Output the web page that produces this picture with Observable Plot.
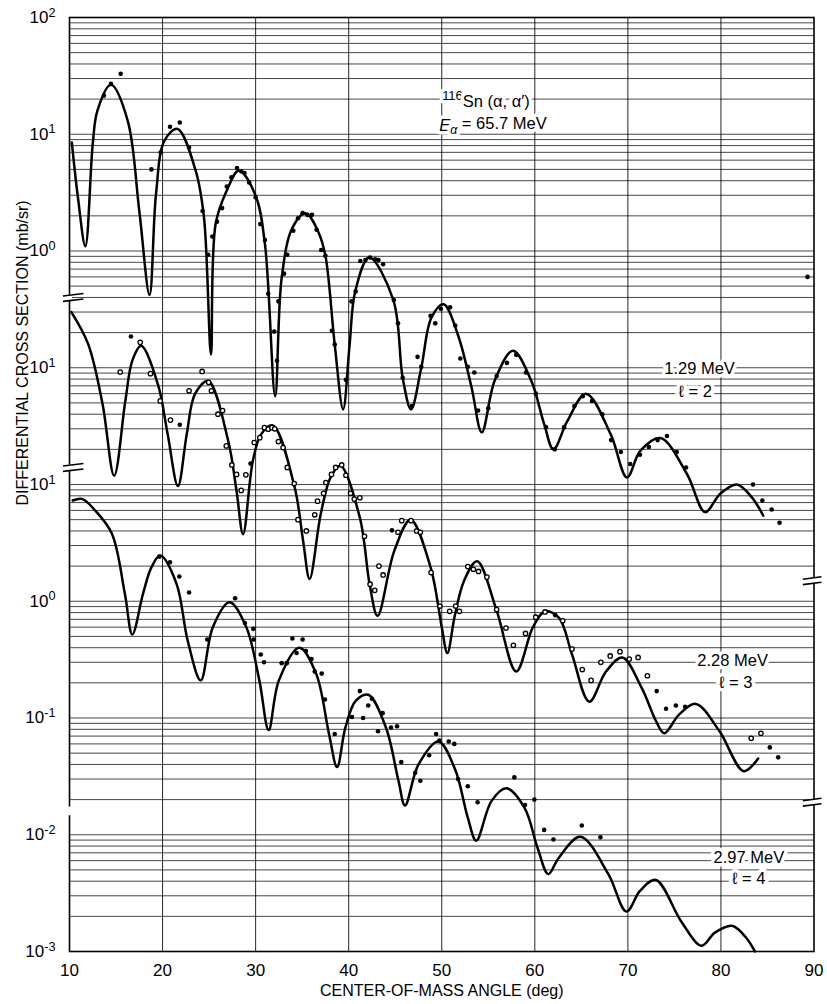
<!DOCTYPE html>
<html><head><meta charset="utf-8">
<script src="https://cdn.jsdelivr.net/npm/d3@7"></script>
<script src="https://cdn.jsdelivr.net/npm/@observablehq/plot@0.6"></script>
<style>
html,body{margin:0;padding:0;background:#fff;}
#chart svg{display:block;}
</style></head><body><div id="chart"></div>
<script>
// ---- Curve data: [angle (deg), cross section in the curve's own units] ----
// 1.29 MeV (l=2) - plotted on the top decade labels
const curveA = [[10.25,8.5],[10.9,2.9],[11.7,1.1],[12.5,8.3],[13.0,15.9],[14.45,26.5],[16.25,13.1],[17.5,2.2],[18.6,0.42],[19.3,3.1],[20.2,8.8],[21.6,11.1],[23.55,4.9],[24.45,1.94],[25.2,0.13],[25.7,1.7],[26.9,3.3],[28.2,4.9],[30.0,2.98],[31.0,1.15],[32.1,0.057],[32.8,0.59],[33.95,1.58],[35.4,2.1],[36.75,1.45],[37.5,0.91],[38.5,0.158],[39.4,0.044],[40.1,0.158],[40.7,0.45],[42.2,0.88],[44.8,0.38],[45.8,0.082],[46.7,0.044],[47.8,0.10],[48.9,0.27],[50.2,0.35],[51.75,0.19],[53.2,0.068],[54.3,0.028],[55.7,0.078],[57.65,0.14],[59.6,0.078],[61.0,0.033],[62.0,0.02],[63.5,0.035],[65.5,0.06],[68.15,0.027],[69.9,0.0115],[71.35,0.0195],[73.5,0.025],[76.35,0.0123],[78.3,0.0058],[79.9,0.0083],[81.7,0.01],[83.3,0.0078],[84.55,0.0054]];
const pointsA = [[13.7,21.4],[14.45,27],[15.5,32.9],[18.8,5.0],[19.8,7.0],[20.8,11.6],[21.85,12.6],[22.85,7.7],[24.3,2.2],[24.9,0.93],[25.35,1.33],[25.85,1.78],[26.4,2.33],[26.9,3.57],[27.4,4.27],[28.0,5.14],[28.45,4.81],[28.8,4.66],[29.3,3.87],[30.0,2.88],[30.5,1.70],[31.0,1.24],[31.35,0.43],[32.0,0.204],[32.3,0.115],[32.45,0.37],[33.05,0.64],[33.4,0.93],[34.05,1.49],[34.55,1.91],[35.05,2.11],[35.55,2.04],[36.05,2.04],[36.55,1.52],[37.05,1.02],[37.5,0.91],[38.2,0.207],[38.5,0.158],[39.7,0.079],[40.3,0.37],[40.75,0.45],[41.25,0.82],[41.8,0.836],[42.3,0.88],[42.85,0.85],[43.2,0.836],[43.7,0.77],[44.85,0.38],[45.3,0.24],[45.8,0.082],[46.8,0.047],[47.4,0.124],[47.8,0.102],[48.8,0.278],[49.3,0.24],[49.9,0.32],[50.9,0.33],[51.45,0.23],[52.0,0.12],[52.8,0.102],[53.5,0.091],[53.9,0.043],[55.0,0.045],[55.9,0.085],[57.0,0.11],[58.0,0.129],[59.05,0.091],[60.1,0.06],[61.2,0.031],[62.15,0.02],[63.15,0.031],[64.25,0.047],[65.15,0.057],[66.15,0.052],[67.25,0.04],[68.2,0.024],[69.25,0.019],[70.25,0.015],[71.3,0.018],[72.25,0.021],[73.2,0.024],[74.2,0.026],[75.25,0.019],[76.25,0.014],[83.45,0.010],[84.45,0.0073],[85.45,0.0061],[86.3,0.0047],[89.3,0.60]];

// 2.28 MeV (l=3)
const curveB = [[10.2,30],[12.0,16],[13.55,4.9],[14.8,1.19],[16.0,5.2],[16.75,11.5],[17.7,15.4],[19.5,7.2],[20.55,2.7],[21.65,0.97],[22.6,2.7],[23.5,6.0],[24.9,7.7],[27.05,2.37],[27.95,0.88],[28.65,0.375],[29.7,1.59],[30.6,2.7],[31.85,3.2],[34.2,0.94],[35.1,0.33],[35.8,0.155],[37.0,0.56],[38.05,1.15],[39.1,1.45],[41.2,0.52],[42.25,0.14],[43.1,0.075],[44.9,0.27],[46.65,0.50],[48.8,0.195],[50.0,0.06],[50.6,0.036],[51.4,0.075],[52.4,0.15],[53.8,0.22],[55.9,0.083],[58.0,0.025],[59.8,0.06],[61.1,0.082],[62.6,0.072],[64.0,0.035],[65.85,0.0138],[67.65,0.025],[69.4,0.033],[71.5,0.018],[73.0,0.0095],[73.9,0.0074],[75.5,0.0107],[77.3,0.0132],[79.8,0.0078],[82.45,0.0035],[84.0,0.0045]];
const pointsBOpen = [[17.6,16.5],[15.45,9.2],[18.7,8.9],[19.75,5.2],[20.85,3.56],[22.85,6.35],[24.25,9.3],[24.95,7.5],[25.25,6.35],[25.95,4.0],[26.45,4.3],[26.85,2.14],[27.45,1.47],[27.95,1.22],[28.45,0.89],[28.95,1.21],[29.85,2.29],[30.45,2.52],[30.95,3.07],[31.35,2.98],[31.75,3.07],[32.05,3.0],[32.45,2.33],[32.95,2.07],[33.4,1.40],[34.15,1.02],[34.55,0.50],[35.45,0.40],[36.35,0.55],[36.65,0.72],[37.3,0.84],[37.55,1.04],[38.15,1.22],[38.6,1.4],[39.25,1.47],[39.7,1.2],[40.2,0.84],[40.6,0.75],[41.2,0.77],[41.7,0.36],[42.3,0.14],[42.8,0.124],[43.25,0.2],[43.7,0.168],[45.3,0.39],[45.7,0.49],[46.7,0.49],[47.3,0.40],[47.7,0.39],[48.85,0.176],[49.8,0.091],[50.85,0.082],[51.5,0.091],[51.9,0.082],[52.8,0.198],[53.4,0.188],[53.95,0.18],[54.85,0.161],[55.9,0.085],[56.9,0.059],[57.7,0.042],[59.0,0.053],[60.1,0.073],[61.1,0.081],[63.0,0.068],[64.0,0.039],[65.1,0.026],[66.05,0.021],[67.1,0.030],[68.1,0.034],[69.15,0.037],[70.15,0.032],[71.1,0.033],[72.1,0.023],[83.25,0.0067],[84.3,0.0074]];
const pointsBFilled = [[16.6,18.5],[21.85,3.25],[29.45,1.51],[44.65,0.405],[62.2,0.076],[73.1,0.017],[74.1,0.012],[75.15,0.0128],[76.15,0.0125],[85.25,0.0056],[86.15,0.0046]];

// 2.97 MeV (l=4)
const curveC = [[10.35,7.3],[11.4,7.5],[12.75,6.0],[14.55,3.8],[15.95,1.16],[16.75,0.52],[17.9,1.16],[18.8,1.95],[19.75,2.46],[21.5,1.41],[22.7,0.46],[24.1,0.21],[25.4,0.60],[27.2,0.98],[29.0,0.60],[30.4,0.21],[31.4,0.079],[32.5,0.21],[34.7,0.40],[36.5,0.24],[37.9,0.072],[38.75,0.038],[39.65,0.083],[40.75,0.14],[42.1,0.158],[44.0,0.083],[45.35,0.029],[46.05,0.0178],[47.5,0.04],[49.65,0.063],[51.45,0.036],[52.8,0.014],[53.7,0.0089],[55.35,0.0195],[56.95,0.025],[58.9,0.017],[60.3,0.0077],[61.45,0.0046],[62.55,0.0063],[64.9,0.0096],[67.9,0.0046],[69.85,0.0022],[71.3,0.0033],[73.0,0.0041],[75.75,0.0018],[77.9,0.00112],[79.35,0.00145],[81.2,0.00166],[82.75,0.0013],[83.65,0.001]];
const pointsC = [[19.65,2.41],[20.8,2.16],[21.8,1.63],[22.85,1.19],[24.8,0.47],[27.8,1.06],[28.85,0.65],[29.75,0.58],[29.8,0.47],[30.55,0.35],[30.9,0.30],[32.8,0.295],[33.35,0.295],[33.95,0.48],[34.4,0.36],[35.05,0.47],[35.4,0.375],[36.0,0.32],[36.35,0.25],[37.1,0.24],[37.45,0.144],[38.5,0.073],[40.35,0.102],[41.2,0.17],[41.55,0.10],[42.1,0.128],[42.5,0.146],[43.15,0.077],[43.65,0.11],[44.55,0.083],[45.2,0.085],[45.65,0.042],[47.15,0.034],[47.7,0.029],[48.65,0.048],[49.4,0.073],[49.75,0.064],[50.75,0.063],[51.35,0.06],[51.75,0.03],[52.8,0.026],[53.85,0.019],[57.8,0.031],[58.95,0.018],[59.95,0.02],[61.0,0.011],[62.0,0.0091],[65.05,0.012],[67.05,0.0095]];

// decade shift of each curve onto the common log paper
const shiftA = 1, shiftB = 0.01, shiftC = 0.001;

// axis ticks (paper units) and their printed labels
const yTickValues = [100,50,20,10,5,2,1,0.5, 0.1,0.05,0.02, 0.01,0.005,0.002,0.001,5e-4,2e-4,1e-4,5e-5,2e-5,1e-5,5e-6,2e-6,1e-6];
const yTickLabels = ["10^2","5","2","10^1","5","2","10^0","5", "10^1","5","2", "10^1","5","2","10^0","5","2","10^-1","5","2","10^-2","5","2","10^-3"];
const xTicks = [10,20,30,40,50,60,70,80,90];
const xGrid = [20,30,40,50,60,70,80];

// axis breaks (paper units)
const breaksLeft = [0.40, 0.014];
const breaksRight = [0.0015, 1.9e-5];
const gapsLeft = [1.6e-5];

// annotations (deg, paper units)
const annotations = [
  {text: "116Sn (α, α′)", x: 54.75, y: 19.7},
  {text: "Eα = 65.7 MeV", x: 55.5, y: 11.9},
  {text: "1.29 MeV", x: 77.7, y: 0.098},
  {text: "ℓ = 2", x: 77.25, y: 0.0628},
  {text: "2.28 MeV", x: 81.25, y: 3.09e-4},
  {text: "ℓ = 3", x: 81.6, y: 2.01e-4},
  {text: "2.97 MeV", x: 83.0, y: 6.3e-6},
  {text: "ℓ = 4", x: 83.0, y: 4.17e-6}
];
const xTitle = "CENTER-OF-MASS ANGLE (deg)";
const yTitle = "DIFFERENTIAL CROSS SECTION (mb/sr)";
const yTitleAt = [6.6e-3];

const lineOpts = (s) => ({x: d => d[0], y: d => d[1] * s, curve: "catmull-rom", stroke: "#000", strokeWidth: 2.5});

const chart = Plot.plot({
  width: 827, height: 1004,
  marginLeft: 69, marginRight: 13.5, marginTop: 17, marginBottom: 53,
  style: {fontFamily: "'Liberation Sans', Arial, sans-serif", fontSize: "17px", background: "#fff", color: "#000"},
  x: {domain: [10, 90]},
  y: {type: "log", domain: [1e-6, 100]},
  marks: [
    Plot.gridY({ticks: 100, stroke: "#000", strokeOpacity: 0.72, strokeWidth: 1}),
    Plot.gridX({ticks: xGrid, stroke: "#000", strokeOpacity: 0.85, strokeWidth: 1}),
    Plot.frame({stroke: "#000", strokeWidth: 1.6}),
    // axis breaks
    Plot.link(breaksLeft, {x1: () => 10, x2: () => 10, y1: d => d * 1.06, y2: d => d / 1.06, stroke: "#fff", strokeWidth: 5}),
    Plot.link(breaksRight, {x1: () => 90, x2: () => 90, y1: d => d * 1.06, y2: d => d / 1.06, stroke: "#fff", strokeWidth: 5}),
    Plot.link(gapsLeft, {x1: () => 10, x2: () => 10, y1: d => d * 1.09, y2: d => d / 1.09, stroke: "#fff", strokeWidth: 5}),
    Plot.link(breaksLeft, {x1: () => 9.3, x2: () => 11.5, y1: d => d * 1.03, y2: d => d * 1.08, stroke: "#000", strokeWidth: 1.6}),
    Plot.link(breaksLeft, {x1: () => 9.3, x2: () => 11.5, y1: d => d / 1.08, y2: d => d / 1.03, stroke: "#000", strokeWidth: 1.6}),
    Plot.link(breaksRight, {x1: () => 88.8, x2: () => 90.8, y1: d => d * 1.03, y2: d => d * 1.08, stroke: "#000", strokeWidth: 1.6}),
    Plot.link(breaksRight, {x1: () => 88.8, x2: () => 90.8, y1: d => d / 1.08, y2: d => d / 1.03, stroke: "#000", strokeWidth: 1.6}),
    // axes
    Plot.axisX({ticks: xTicks, tickSize: 0, tickPadding: 12, label: null, fontSize: 17}),
    Plot.axisY({ticks: yTickValues, tickSize: 0, tickPadding: 14, label: null, fontSize: 17,
      tickFormat: d => yTickLabels[yTickValues.indexOf(d)]}),
    Plot.text([xTitle], {frameAnchor: "bottom", dy: 39, text: d => d, fontSize: 16, lineAnchor: "middle"}),
    Plot.text(yTitleAt, {y: d => d, frameAnchor: "left", dx: -47, rotate: -90, text: () => yTitle, fontSize: 16, lineAnchor: "middle"}),
    // annotations with white halo
    Plot.text(annotations, {x: "x", y: "y", text: "text", fontSize: 16.5, fill: "#000", stroke: "#fff", strokeWidth: 7, paintOrder: "stroke", lineAnchor: "middle"}),
    // curves
    Plot.line(curveA, lineOpts(shiftA)),
    Plot.line(curveB, lineOpts(shiftB)),
    Plot.line(curveC, lineOpts(shiftC)),
    // data points
    Plot.dot(pointsA, {x: d => d[0], y: d => d[1] * shiftA, r: 2.3, fill: "#000"}),
    Plot.dot(pointsBOpen, {x: d => d[0], y: d => d[1] * shiftB, r: 2.2, fill: "#fff", stroke: "#000", strokeWidth: 1.3}),
    Plot.dot(pointsBFilled, {x: d => d[0], y: d => d[1] * shiftB, r: 2.3, fill: "#000"}),
    Plot.dot(pointsC, {x: d => d[0], y: d => d[1] * shiftC, r: 2.3, fill: "#000"})
  ]
});

document.getElementById("chart").appendChild(chart);

// ---- typographic touches: superscripts / subscripts ----
const NS = "http://www.w3.org/2000/svg";
function tspan(parent, txt, attrs) {
  const t = document.createElementNS(NS, "tspan");
  t.textContent = txt;
  for (const k in attrs) t.setAttribute(k, attrs[k]);
  parent.appendChild(t);
  return t;
}
chart.querySelectorAll('g[aria-label="y-axis tick label"] text').forEach(t => {
  const s = t.textContent;
  if (s.includes("^")) {
    const [base, exp] = s.split("^");
    t.textContent = "";
    tspan(t, base, {});
    tspan(t, exp, {dy: "-0.5em", "font-size": "75%"});
  }
});
chart.querySelectorAll("text").forEach(t => {
  const s = t.textContent;
  if (s === "116Sn (α, α′)") {
    t.textContent = "";
    tspan(t, "116", {dy: "-0.42em", "font-size": "78%"});
    tspan(t, "Sn (α, α′)", {dy: "0.42em"});
  } else if (s === "Eα = 65.7 MeV") {
    t.textContent = "";
    tspan(t, "E", {"font-style": "italic"});
    tspan(t, "α", {dy: "0.3em", "font-size": "75%", "font-style": "italic"});
    tspan(t, " = 65.7 MeV", {dy: "-0.3em"});
  }
});
</script>
</body></html>
